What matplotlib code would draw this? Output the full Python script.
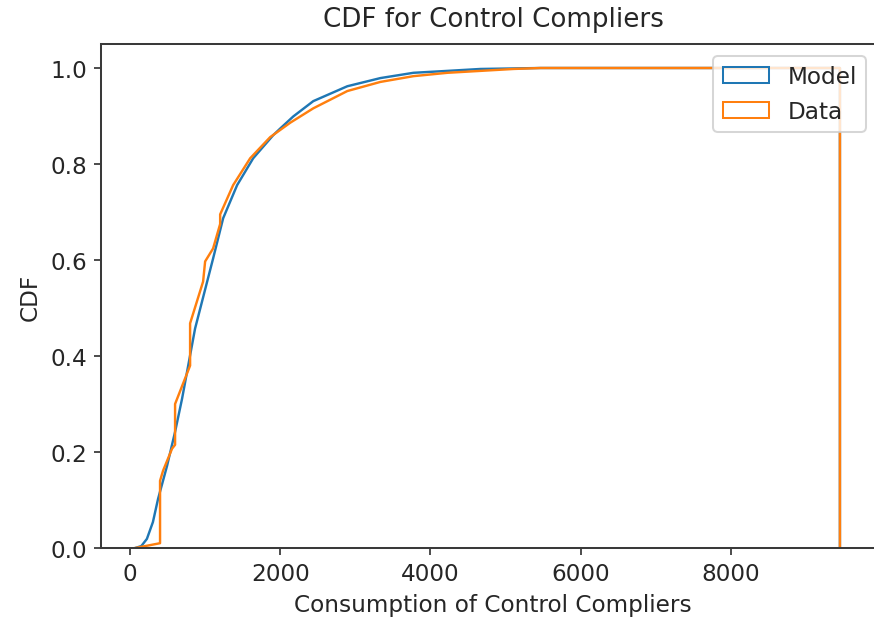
import numpy as np
import matplotlib
matplotlib.use("Agg")
import matplotlib.pyplot as plt
from matplotlib.patches import Patch

# Model CDF (blue)
model_x = [70, 150, 225, 305, 373, 493, 600, 693, 866, 1106, 1240, 1426,
           1640, 1906, 2000, 2173, 2440, 2893, 3333, 3773, 4226, 4666, 5466, 9450]
model_cdf = [0.0, 0.004, 0.019, 0.054, 0.102, 0.171, 0.242, 0.311, 0.457,
             0.603, 0.687, 0.756, 0.812, 0.860, 0.874, 0.899, 0.931, 0.962, 0.979,
             0.990, 0.994, 0.998, 1.0, 1.0]

# Data CDF (orange)
data_x = [70, 400, 400, 440, 560, 600, 600, 800, 800, 973, 1000, 1106,
          1200, 1200, 1373, 1600, 1866, 2000, 2133, 2440, 2893, 3333, 3773,
          4226, 4666, 5106, 5466, 9450]
data_cdf = [0.0, 0.010, 0.140, 0.161, 0.207, 0.215, 0.300, 0.380, 0.468,
            0.555, 0.597, 0.624, 0.675, 0.695, 0.756, 0.812, 0.856, 0.871,
            0.886, 0.916, 0.952, 0.971, 0.983, 0.990, 0.994, 0.998, 1.0, 1.0]

labels = ["Model", "Data"]
colors = ["#1f77b4", "#ff7f0e"]

plt.rcParams["font.size"] = 11.5
plt.rcParams["text.color"] = "#262626"
plt.rcParams["axes.labelcolor"] = "#262626"
plt.rcParams["xtick.color"] = "#262626"
plt.rcParams["ytick.color"] = "#262626"
plt.rcParams["axes.edgecolor"] = "#3a3a3a"
plt.rcParams["axes.linewidth"] = 1.0

W, H = 874, 629
dpi = 145
px0, px1 = 101, 885  # axes extends beyond the right edge (cropped in the reference)
fig = plt.figure(figsize=(W / dpi, H / dpi), dpi=dpi)
ax = fig.add_axes([px0 / W, (H - 549) / H, (px1 - px0) / W, (549 - 45) / H])
ax.spines["right"].set_visible(False)

for xs, ys, c in [(model_x, model_cdf, colors[0]), (data_x, data_cdf, colors[1])]:
    xs = np.asarray(xs, float)
    ys = np.asarray(ys, float)
    # cumulative step-histogram outline: closes with a drop to zero at the last edge
    ax.plot(np.r_[xs, xs[-1]], np.r_[ys, 0.0], color=c, lw=1.2)

# keep the same data-to-pixel scale (0 at px 130, 8000 at px 731)
scale = (731 - 130) / 8000.0
ax.set_xlim((px0 - 130) / scale, (px1 - 130) / scale)
ax.set_ylim(0, 1.05)
ax.set_xticks([0, 2000, 4000, 6000, 8000])
ax.set_yticks([0.0, 0.2, 0.4, 0.6, 0.8, 1.0])
ax.set_title("CDF for Control Compliers", fontsize=13, pad=9)
ax.set_xlabel("Consumption of Control Compliers")
ax.set_ylabel("CDF")

handles = [Patch(facecolor="none", edgecolor=c, label=l) for c, l in zip(colors, labels)]
ax.legend(handles=handles, loc="upper right", bbox_to_anchor=(866 / W, (H - 57) / H),
          bbox_transform=fig.transFigure, borderaxespad=0)

fig.savefig("out.png", dpi=dpi)
